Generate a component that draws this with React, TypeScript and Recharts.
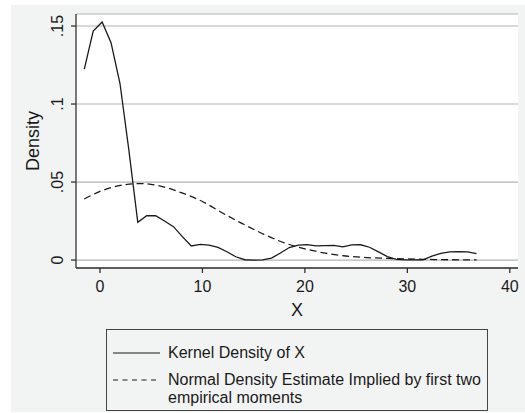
import { LineChart, Line, XAxis, YAxis, CartesianGrid, Label } from 'recharts'

// kernel density of X
const kernelX = [
  -1.53, -0.66, 0.21, 1.08, 1.95, 2.82, 3.69, 4.56, 5.43, 6.3, 7.17, 8.04, 8.91, 9.78, 10.65,
  11.52, 12.39, 13.26, 14.13, 15.0, 15.87, 16.74, 17.61, 18.48, 19.35, 20.22, 21.09, 21.96,
  22.83, 23.7, 24.57, 25.44, 26.31, 27.18, 28.05, 28.92, 29.79, 30.66, 31.53, 32.4, 33.27,
  34.14, 35.01, 35.88, 36.75,
]
const kernelY = [
  0.1224, 0.1468, 0.1526, 0.1393, 0.1133, 0.0705, 0.0242, 0.0284, 0.0284, 0.025, 0.0214,
  0.015, 0.009, 0.01, 0.0096, 0.0081, 0.0053, 0.0021, 0.0002, 0.0, 0.0001, 0.0012, 0.0045,
  0.008, 0.0095, 0.0099, 0.0091, 0.0092, 0.0094, 0.0084, 0.0097, 0.0098, 0.0082, 0.0052,
  0.0022, 0.0004, 0.0001, 0.0001, 0.0002, 0.0025, 0.0043, 0.0052, 0.0054, 0.0052, 0.0041,
]

// normal density implied by first two moments
const normalX = [-1.53, 0, 2, 4, 6, 8, 10, 12, 14, 16, 18, 20, 22, 24, 26, 28, 30, 32, 34, 36.75]
const normalY = [
  0.0391, 0.044, 0.0478, 0.049, 0.0472, 0.043, 0.0375, 0.03, 0.023, 0.0165, 0.011, 0.0072,
  0.0044, 0.0026, 0.0016, 0.0011, 0.0007, 0.0004, 0.0002, 0.0001,
]

const xTicks = [0, 10, 20, 30, 40]
const yTicks = [0, 0.05, 0.1, 0.15]
const yTickLabels = ['0', '.05', '.1', '.15']

const kernelData = kernelX.map((x, i) => ({ x, y: kernelY[i] }))
const normalData = normalX.map((x, i) => ({ x, y: normalY[i] }))

const FONT = '"Liberation Sans", Arial, Helvetica, sans-serif'
const INK = '#1a1a1a'

function YTick(props: any) {
  const { y, payload } = props
  const idx = yTicks.indexOf(payload.value)
  return (
    <text
      x={57}
      y={y}
      dy="0.35em"
      transform={`rotate(-90 57 ${y})`}
      textAnchor="middle"
      fontSize={16}
      fontFamily={FONT}
      fill={INK}
    >
      {idx >= 0 ? yTickLabels[idx] : payload.value}
    </text>
  )
}

export default function App() {
  return (
    <div style={{ position: 'absolute', left: 0, top: 0, width: 525, height: 413, background: '#fff' }}>
      <div style={{ position: 'absolute', left: 11, top: 5, width: 514, height: 407, background: '#f2f4f3' }} />
      <div style={{ position: 'absolute', left: 0, top: 0 }}>
        <LineChart width={525} height={413} margin={{ top: 14, right: 7, left: 0, bottom: 0 }}>
          <CartesianGrid vertical={false} fill="#fff" stroke="#b3b3b3" strokeWidth={1.2} />
          <XAxis
            type="number"
            dataKey="x"
            domain={[-2.34, 40.8]}
            ticks={xTicks}
            allowDataOverflow
            height={145}
            tickSize={5}
            tickMargin={8}
            tick={{ fill: INK, fontSize: 16, fontFamily: FONT }}
            axisLine={{ stroke: '#333', strokeWidth: 1.3 }}
            tickLine={{ stroke: '#333', strokeWidth: 1.3 }}
          >
            <Label
              content={(p: any) => {
                const vb = p.viewBox || {}
                return (
                  <text
                    x={vb.x + vb.width / 2}
                    y={vb.y + 48}
                    textAnchor="middle"
                    fontSize={18}
                    fontFamily={FONT}
                    fill={INK}
                  >
                    X
                  </text>
                )
              }}
            />
          </XAxis>
          <YAxis
            type="number"
            dataKey="y"
            domain={[-0.0051, 0.1577]}
            ticks={yTicks}
            allowDataOverflow
            width={76}
            tickSize={5}
            tick={<YTick />}
            axisLine={{ stroke: '#333', strokeWidth: 1.3 }}
            tickLine={{ stroke: '#333', strokeWidth: 1.3 }}
          >
            <Label
              content={(p: any) => {
                const vb = p.viewBox || {}
                const cy = vb.y + vb.height / 2
                return (
                  <text
                    x={33}
                    y={cy}
                    dy="0.35em"
                    transform={`rotate(-90 33 ${cy})`}
                    textAnchor="middle"
                    fontSize={18}
                    fontFamily={FONT}
                    fill={INK}
                  >
                    Density
                  </text>
                )
              }}
            />
          </YAxis>
          <Line
            data={kernelData}
            dataKey="y"
            type="linear"
            stroke={INK}
            strokeWidth={1.3}
            dot={false}
            isAnimationActive={false}
          />
          <Line
            data={normalData}
            dataKey="y"
            type="monotone"
            stroke={INK}
            strokeWidth={1.3}
            strokeDasharray="7 4"
            dot={false}
            isAnimationActive={false}
          />
        </LineChart>
      </div>
      <div
        style={{
          position: 'absolute',
          left: 106,
          top: 329,
          width: 380,
          height: 80,
          border: '1px solid #444',
          fontFamily: FONT,
          fontSize: 16,
          lineHeight: '18px',
          color: INK,
        }}
      >
        <div style={{ position: 'absolute', left: 6, top: 14, display: 'flex', alignItems: 'center' }}>
          <svg width={47} height={4}>
            <line x1={0} y1={2} x2={47} y2={2} stroke={INK} strokeWidth={1.2} />
          </svg>
          <span style={{ marginLeft: 8 }}>Kernel Density of X</span>
        </div>
        <div style={{ position: 'absolute', left: 6, top: 41, display: 'flex', alignItems: 'center' }}>
          <svg width={47} height={4}>
            <line x1={0} y1={2} x2={47} y2={2} stroke={INK} strokeWidth={1.2} strokeDasharray="5 4.5" />
          </svg>
          <span style={{ marginLeft: 8 }}>Normal Density Estimate Implied by first two</span>
        </div>
        <div style={{ position: 'absolute', left: 61, top: 59 }}>empirical moments</div>
      </div>
    </div>
  )
}
